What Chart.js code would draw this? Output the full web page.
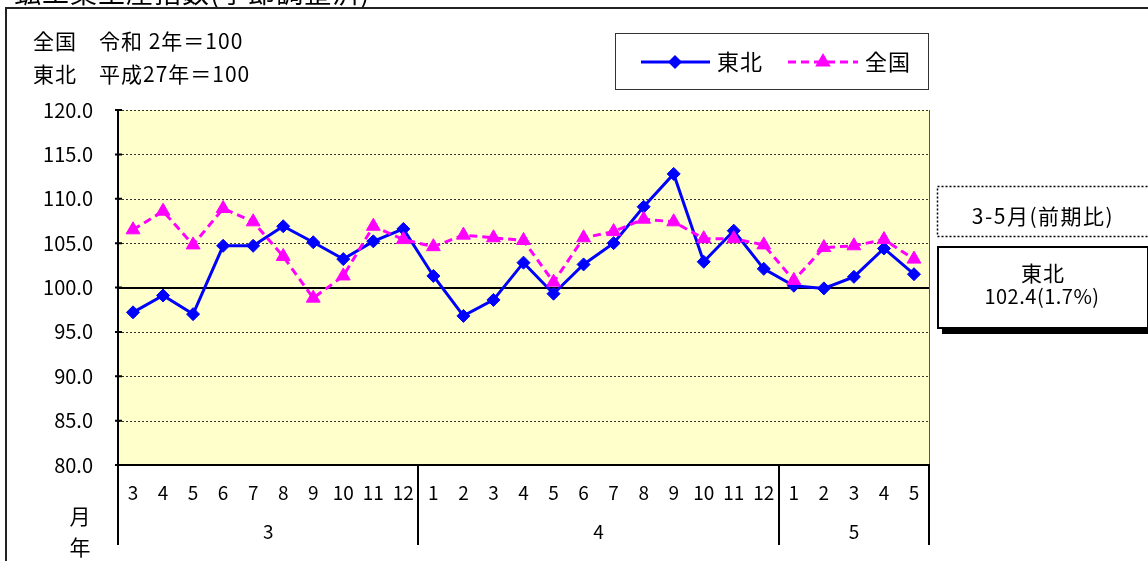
<!DOCTYPE html>
<html lang="ja">
<head>
<meta charset="utf-8">
<title>鉱工業生産指数(季節調整済)</title>
<script src="https://cdn.jsdelivr.net/npm/chart.js"></script>
<style>
  html, body { margin: 0; padding: 0; background: #fff; }
  #chart { display: block; }
</style>
</head>
<body>
<canvas id="chart" width="1148" height="561"></canvas>
<script>
// Chart data
const months = ['3', '4', '5', '6', '7', '8', '9', '10', '11', '12',
  '1', '2', '3', '4', '5', '6', '7', '8', '9', '10', '11', '12',
  '1', '2', '3', '4', '5'];
const years = ['3', '4', '5'];
const yearSpans = [10, 12, 5];
const tohoku = [97.2, 99.1, 97.0, 104.7, 104.7, 106.9, 105.1, 103.2, 105.2, 106.6,
  101.3, 96.8, 98.6, 102.8, 99.3, 102.6, 105.0, 109.1, 112.8, 102.9, 106.4, 102.1,
  100.2, 99.9, 101.2, 104.4, 101.5];
const zenkoku = [106.5, 108.6, 104.8, 108.9, 107.4, 103.5, 98.8, 101.3, 106.9, 105.4,
  104.6, 105.9, 105.6, 105.3, 100.6, 105.6, 106.3, 107.7, 107.4,
  105.5, 105.5, 104.8, 100.8, 104.5, 104.7, 105.4, 103.2];
const yMin = 80;
const yMax = 120;
const yStep = 5;

const JP_FONT = '"Noto Sans CJK JP", "Noto Sans", sans-serif';
const BLUE = '#0000FF';
const MAGENTA = '#FF00FF';

// Marker helpers (used by the hand drawn legend)
function diamond(ctx, x, y, r) {
  ctx.beginPath();
  ctx.moveTo(x - r, y);
  ctx.lineTo(x, y - r);
  ctx.lineTo(x + r, y);
  ctx.lineTo(x, y + r);
  ctx.closePath();
  ctx.fill();
}

function triangle(ctx, x, y, r) {
  ctx.beginPath();
  ctx.moveTo(x, y - r);
  ctx.lineTo(x + r * 0.866, y + r * 0.5);
  ctx.lineTo(x - r * 0.866, y + r * 0.5);
  ctx.closePath();
  ctx.fill();
}

function text(ctx, str, x, y, size, spacing) {
  ctx.font = size + 'px ' + JP_FONT;
  ctx.letterSpacing = (spacing || 0) + 'px';
  ctx.fillText(str, x, y);
  ctx.letterSpacing = '0px';
}

// Frame, title, notes, legend and the summary boxes on the right
const decorPlugin = {
  id: 'decor',
  beforeDraw(chart) {
    const ctx = chart.ctx;
    const area = chart.chartArea;
    ctx.save();
    ctx.fillStyle = '#fff';
    ctx.fillRect(0, 0, chart.width, chart.height);

    // title, cut by the top edge
    ctx.fillStyle = '#000';
    ctx.textAlign = 'left';
    ctx.textBaseline = 'alphabetic';
    text(ctx, '鉱工業生産指数(季節調整済)', 14, 3, 27, 1);

    // outer frame
    ctx.strokeStyle = '#222';
    ctx.lineWidth = 2;
    ctx.beginPath();
    ctx.moveTo(6, chart.height + 2);
    ctx.lineTo(6, 8);
    ctx.lineTo(chart.width + 2, 8);
    ctx.stroke();

    // base year notes
    ctx.textBaseline = 'middle';
    text(ctx, '全国　令和 2年＝100', 33, 41, 21, 1);
    text(ctx, '東北　平成27年＝100', 33, 74, 21, 1);

    // legend box
    ctx.lineWidth = 1;
    ctx.strokeStyle = '#333';
    ctx.strokeRect(615.5, 33.5, 313, 56);
    ctx.strokeStyle = BLUE;
    ctx.fillStyle = BLUE;
    ctx.lineWidth = 3;
    ctx.beginPath();
    ctx.moveTo(641, 62);
    ctx.lineTo(710, 62);
    ctx.stroke();
    diamond(ctx, 675, 62, 7);
    ctx.strokeStyle = MAGENTA;
    ctx.fillStyle = MAGENTA;
    ctx.setLineDash([8, 5]);
    ctx.beginPath();
    ctx.moveTo(788, 62);
    ctx.lineTo(858, 62);
    ctx.stroke();
    ctx.setLineDash([]);
    triangle(ctx, 823, 62, 9);
    ctx.fillStyle = '#000';
    text(ctx, '東北', 717, 62, 22, 1);
    text(ctx, '全国', 865, 62, 22, 1);

    // period box (dotted)
    ctx.strokeStyle = '#000';
    ctx.lineWidth = 1.5;
    ctx.setLineDash([2, 2]);
    ctx.strokeRect(937.5, 186.5, 212, 50);
    ctx.setLineDash([]);
    ctx.textAlign = 'center';
    text(ctx, '3-5月(前期比)', 1043, 216, 21, 1.5);

    // result box with shadow
    ctx.fillStyle = '#000';
    ctx.fillRect(942, 251, 210, 83);
    ctx.fillStyle = '#fff';
    ctx.fillRect(937, 246, 210, 82);
    ctx.lineWidth = 2;
    ctx.strokeRect(938, 247, 210, 81);
    ctx.fillStyle = '#000';
    text(ctx, '東北', 1043, 273, 21, 1);
    text(ctx, '102.4(1.7%)', 1042, 296, 20, 0.5);

    // plot background
    ctx.fillStyle = '#FFFFCC';
    ctx.fillRect(area.left, area.top, area.right - area.left, area.bottom - area.top);
    ctx.restore();
  },
  beforeDatasetsDraw(chart) {
    const ctx = chart.ctx;
    const area = chart.chartArea;
    const xs = chart.scales.x;
    const ys = chart.scales.y;
    ctx.save();

    // horizontal grid: dotted, 100 solid
    for (let v = yMin + yStep; v <= yMax; v += yStep) {
      const y = Math.round(ys.getPixelForValue(v)) + 0.5;
      ctx.beginPath();
      if (v === 100) {
        ctx.setLineDash([]);
        ctx.lineWidth = 2;
        ctx.strokeStyle = '#000';
        ctx.moveTo(area.left, y - 0.5);
        ctx.lineTo(area.right, y - 0.5);
      } else {
        ctx.setLineDash([2, 2]);
        ctx.lineWidth = 1;
        ctx.strokeStyle = '#333';
        ctx.moveTo(area.left, y);
        ctx.lineTo(area.right, y);
      }
      ctx.stroke();
    }
    ctx.setLineDash([]);

    // right border
    ctx.strokeStyle = '#555';
    ctx.lineWidth = 1;
    ctx.beginPath();
    ctx.moveTo(area.right + 0.5, area.top);
    ctx.lineTo(area.right + 0.5, area.bottom);
    ctx.stroke();

    // y axis with small ticks
    ctx.strokeStyle = '#000';
    ctx.lineWidth = 2;
    ctx.beginPath();
    ctx.moveTo(area.left, area.top);
    ctx.lineTo(area.left, area.bottom + 80);
    for (let v = yMin; v <= yMax; v += yStep) {
      const y = ys.getPixelForValue(v);
      ctx.moveTo(area.left - 3, y);
      ctx.lineTo(area.left + 4, y);
    }
    ctx.stroke();

    // x axis line, group separators and year labels
    ctx.beginPath();
    ctx.moveTo(area.left, area.bottom);
    ctx.lineTo(area.right + 1, area.bottom);
    ctx.stroke();

    ctx.fillStyle = '#000';
    ctx.textAlign = 'center';
    ctx.textBaseline = 'middle';
    let start = 0;
    yearSpans.forEach((span, i) => {
      const end = start + span - 1;
      const cx = (xs.getPixelForValue(start) + xs.getPixelForValue(end)) / 2;
      text(ctx, years[i], cx, 532, 19);
      const sepX = end < months.length - 1
        ? (xs.getPixelForValue(end) + xs.getPixelForValue(end + 1)) / 2
        : area.right;
      ctx.beginPath();
      ctx.moveTo(Math.round(sepX), area.bottom);
      ctx.lineTo(Math.round(sepX), area.bottom + 80);
      ctx.stroke();
      start += span;
    });

    text(ctx, '月', 80, 516, 21);
    text(ctx, '年', 80, 547, 21);
    ctx.restore();
  }
};

new Chart(document.getElementById('chart'), {
  type: 'line',
  data: {
    labels: months,
    datasets: [
      {
        label: '東北',
        data: tohoku,
        order: 1,
        borderColor: BLUE,
        backgroundColor: BLUE,
        borderWidth: 3,
        pointStyle: 'rectRot',
        pointRadius: 6.5,
        pointBorderWidth: 1,
        tension: 0
      },
      {
        label: '全国',
        data: zenkoku,
        order: 0,
        borderColor: MAGENTA,
        backgroundColor: MAGENTA,
        borderWidth: 3,
        borderDash: [8, 5],
        pointStyle: 'triangle',
        pointRadius: 8,
        pointBorderWidth: 1,
        tension: 0
      }
    ]
  },
  options: {
    responsive: false,
    animation: false,
    layout: { padding: { top: 110, right: 219, left: 0, bottom: 0 } },
    plugins: {
      legend: { display: false },
      tooltip: { enabled: false },
      title: { display: false }
    },
    scales: {
      x: {
        offset: true,
        grid: { display: false, drawTicks: false },
        border: { display: false },
        ticks: {
          autoSkip: false,
          maxRotation: 0,
          padding: 16,
          color: '#000',
          font: { family: JP_FONT, size: 19 }
        },
        afterFit(scale) { scale.height = 96; }
      },
      y: {
        min: yMin,
        max: yMax,
        grid: { display: false, drawTicks: false },
        border: { display: false },
        ticks: {
          stepSize: yStep,
          padding: 25,
          color: '#000',
          font: { family: JP_FONT, size: 20 },
          callback: v => v.toFixed(1)
        },
        afterFit(scale) { scale.width = 118; }
      }
    }
  },
  plugins: [decorPlugin]
});
</script>
</body>
</html>
